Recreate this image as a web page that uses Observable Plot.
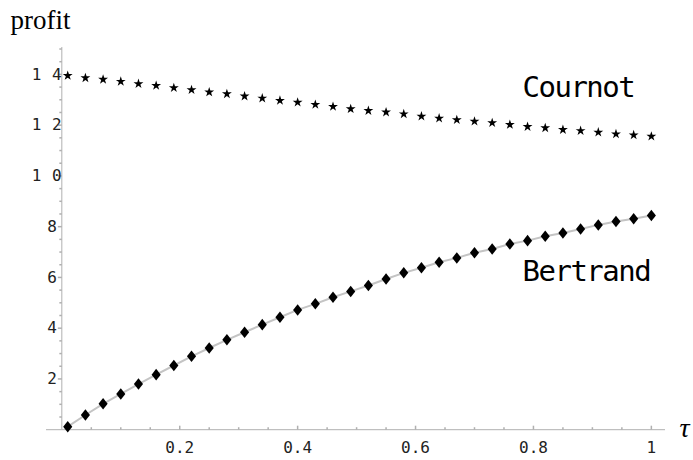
<!DOCTYPE html>
<html>
<head>
<meta charset="utf-8">
<script src="https://cdn.jsdelivr.net/npm/d3@7"></script>
<script src="https://cdn.jsdelivr.net/npm/@observablehq/plot@0.6"></script>
<style>
  html, body { margin: 0; padding: 0; background: #fff; }
</style>
</head>
<body>
<div id="chart"></div>
<script>
// ---- data ----
const tau = [0.01, 0.04, 0.07, 0.10, 0.13, 0.16, 0.19, 0.22, 0.25, 0.28, 0.31, 0.34,
             0.37, 0.40, 0.43, 0.46, 0.49, 0.52, 0.55, 0.58, 0.61, 0.64, 0.67, 0.70,
             0.73, 0.76, 0.79, 0.82, 0.85, 0.88, 0.91, 0.94, 0.97, 1.00];
const cournot = [13.95, 13.86, 13.80, 13.72, 13.63, 13.56, 13.47, 13.39, 13.30, 13.23, 13.14, 13.06,
                 12.97, 12.90, 12.81, 12.73, 12.64, 12.57, 12.51, 12.44, 12.35, 12.27, 12.21, 12.15,
                 12.09, 12.02, 11.94, 11.89, 11.82, 11.78, 11.72, 11.65, 11.61, 11.56];
const bertrand = [0.12, 0.58, 1.02, 1.41, 1.80, 2.17, 2.53, 2.89, 3.22, 3.54, 3.84, 4.14,
                  4.43, 4.72, 4.96, 5.22, 5.45, 5.68, 5.94, 6.18, 6.38, 6.60, 6.77, 6.97,
                  7.12, 7.32, 7.45, 7.62, 7.75, 7.91, 8.07, 8.20, 8.31, 8.44];
const xTicks = [0.2, 0.4, 0.6, 0.8, 1];
const xTickLabels = ["0.2", "0.4", "0.6", "0.8", "1"];
const yTicksOne = [2, 4, 6, 8];
const yTicksTwo = [10, 12, 14];
const seriesNames = ["Cournot", "Bertrand"];
const yAxisTitle = "profit";
const xAxisTitle = "τ";

// ---- derived ----
const cournotData = tau.map((t, i) => ({t, v: cournot[i]}));
const bertrandData = tau.map((t, i) => ({t, v: bertrand[i]}));
const xMinor = d3.range(1, 21).map(i => i * 0.05).filter(v => !xTicks.some(m => Math.abs(m - v) < 1e-9));
const yMajor = [...yTicksOne, ...yTicksTwo];
const yMinor = d3.range(1, 31).map(i => i * 0.5).filter(v => !yMajor.includes(v));

// custom symbols
const hTick = {draw(ctx, size) { const r = Math.sqrt(size / Math.PI); ctx.moveTo(-r, 0); ctx.lineTo(0, 0); }};
const vTick = {draw(ctx, size) { const r = Math.sqrt(size / Math.PI); ctx.moveTo(0, 0); ctx.lineTo(0, -r); }};
const tallDiamond = {draw(ctx, size) {
  const r = Math.sqrt(size / Math.PI);
  ctx.moveTo(0, -1.2 * r); ctx.lineTo(0.95 * r, 0); ctx.lineTo(0, 1.2 * r); ctx.lineTo(-0.95 * r, 0); ctx.closePath();
}};

const axisColor = "#b0b0b0";
const mono = "'DejaVu Sans Mono', 'Liberation Mono', monospace";
const serif = "'Liberation Serif', 'DejaVu Serif', serif";

const chart = Plot.plot({
  width: 693,
  height: 460,
  marginLeft: 46,
  marginRight: 28,
  marginTop: 47,
  marginBottom: 30.8,
  x: {domain: [-0.026, 1.024], axis: null},
  y: {domain: [0, 15.06], axis: null},
  style: {background: "#fff", overflow: "visible"},
  marks: [
    // axes
    Plot.ruleY([0], {stroke: axisColor, strokeWidth: 1}),
    Plot.ruleX([0], {stroke: axisColor, strokeWidth: 1}),
    // ticks
    Plot.dot(xTicks, {x: d => d, y: 0, symbol: vTick, r: 4, stroke: axisColor, fill: "none"}),
    Plot.dot(xMinor, {x: d => d, y: 0, symbol: vTick, r: 2.5, stroke: axisColor, fill: "none"}),
    Plot.dot(yMajor, {x: 0, y: d => d, symbol: hTick, r: 4, stroke: axisColor, fill: "none"}),
    Plot.dot(yMinor, {x: 0, y: d => d, symbol: hTick, r: 2.5, stroke: axisColor, fill: "none"}),
    // tick labels
    Plot.text(xTicks, {x: d => d, y: 0, text: (d, i) => xTickLabels[i], dy: 18.3,
      fontFamily: mono, fontSize: 16, fill: "#222"}),
    Plot.text(yTicksOne, {x: 0, y: d => d, text: d => String(d), textAnchor: "end", dx: -5,
      fontFamily: mono, fontSize: 16, fill: "#222"}),
    Plot.text(yTicksTwo, {x: 0, y: d => d, text: d => String(d), textAnchor: "start", dx: -30,
      fontFamily: mono, fontSize: 16, fill: "#222", ariaDescription: "two-digit-ticks"}),
    // series
    Plot.line(bertrandData, {x: "t", y: "v", stroke: "#c4c4c4", strokeWidth: 2}),
    Plot.dot(bertrandData, {x: "t", y: "v", symbol: tallDiamond, r: 4.8, fill: "#000", stroke: "none"}),
    Plot.dot(cournotData, {x: "t", y: "v", symbol: "star", r: 3.1, fill: "#000", stroke: "none"}),
    // series labels
    Plot.text([seriesNames[0]], {frameAnchor: "top-right", textAnchor: "start", lineAnchor: "bottom",
      dx: -143, dy: 49.7, fontFamily: mono, fontSize: 29, fill: "#000", ariaDescription: "series-labels"}),
    Plot.text([seriesNames[1]], {frameAnchor: "top-right", textAnchor: "start", lineAnchor: "bottom",
      dx: -143, dy: 233.7, fontFamily: mono, fontSize: 29, fill: "#000", ariaDescription: "series-labels"}),
    // axis titles
    Plot.text([yAxisTitle], {frameAnchor: "top-left", textAnchor: "start", lineAnchor: "bottom",
      dx: -36, dy: -18.7, fontFamily: serif, fontSize: 27, fill: "#000"}),
    Plot.text([xAxisTitle], {frameAnchor: "bottom-right", textAnchor: "start", lineAnchor: "bottom",
      dx: 14, dy: 7.5, fontFamily: serif, fontStyle: "italic", fontSize: 28, fill: "#000"})
  ]
});
// letter spacing: two-digit y tick labels are drawn spread out, series labels are condensed
chart.querySelectorAll('[aria-description="two-digit-ticks"] text').forEach(t => t.style.letterSpacing = "10.5px");
chart.querySelectorAll('[aria-description="series-labels"] text').forEach(t => t.style.letterSpacing = "-1.5px");
document.getElementById("chart").appendChild(chart);
</script>
</body>
</html>
